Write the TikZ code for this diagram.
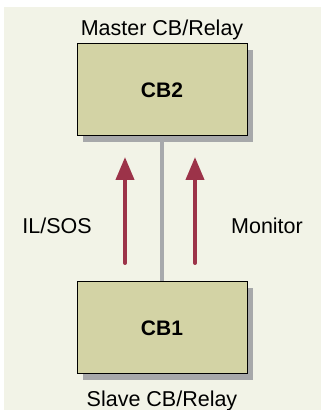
\documentclass[tikz,border=0pt]{standalone}
\usepackage{fontspec}
\setmainfont{Liberation Sans}
\usetikzlibrary{arrows.meta,positioning,shadows}
\definecolor{bgbeige}{HTML}{F2F3E7}
\definecolor{boxolive}{HTML}{D3D3A5}
\definecolor{shadowgray}{HTML}{A7A8AA}
\definecolor{linkgray}{HTML}{A7A9AC}
\definecolor{signalred}{HTML}{9C3349}

\begin{document}
\begin{tikzpicture}[x=1pt, y=1pt, font=\fontsize{21.5}{25}\selectfont,
  cbbox/.style={draw=black, line width=1pt, fill=boxolive,
    minimum width=170pt, minimum height=92pt, font=\fontsize{21}{25}\selectfont\bfseries,
    drop shadow={shadow xshift=6pt, shadow yshift=-6pt, fill=shadowgray, opacity=1}},
  signal/.style={signalred, line width=4pt, line cap=round, -{Triangle[length=23pt,width=18pt]}}]
  \useasboundingbox (0,0) rectangle (321,410);
  \fill[white] (0,0) rectangle (321,410);
  \fill[bgbeige] (4,0) rectangle (321,403); % Background panel

  % The two breakers
  \node[cbbox] (cb2) at (162,320) {CB2};
  \node[cbbox] (cb1) at (162,82) {CB1};
  \node[above=0pt of cb2] (master) {Master CB/Relay};
  \node[below=13pt of cb1] (slave) {Slave CB/Relay};

  % Link between them
  \draw[linkgray, line width=3.5pt] (cb2.south) -- (cb1.north);

  % Signals going up
  \coordinate (ilfrom) at (125,147);
  \coordinate (ilto) at (125,253);
  \coordinate (monfrom) at (195,147);
  \coordinate (monto) at (195,253);
  \draw[signal] (ilfrom) -- (ilto);
  \draw[signal] (monfrom) -- (monto);
  \node[anchor=base] (ilsos) at (57,176) {IL/SOS};
  \node[anchor=base] (monitor) at (267,176) {Monitor};
\end{tikzpicture}
\end{document}
